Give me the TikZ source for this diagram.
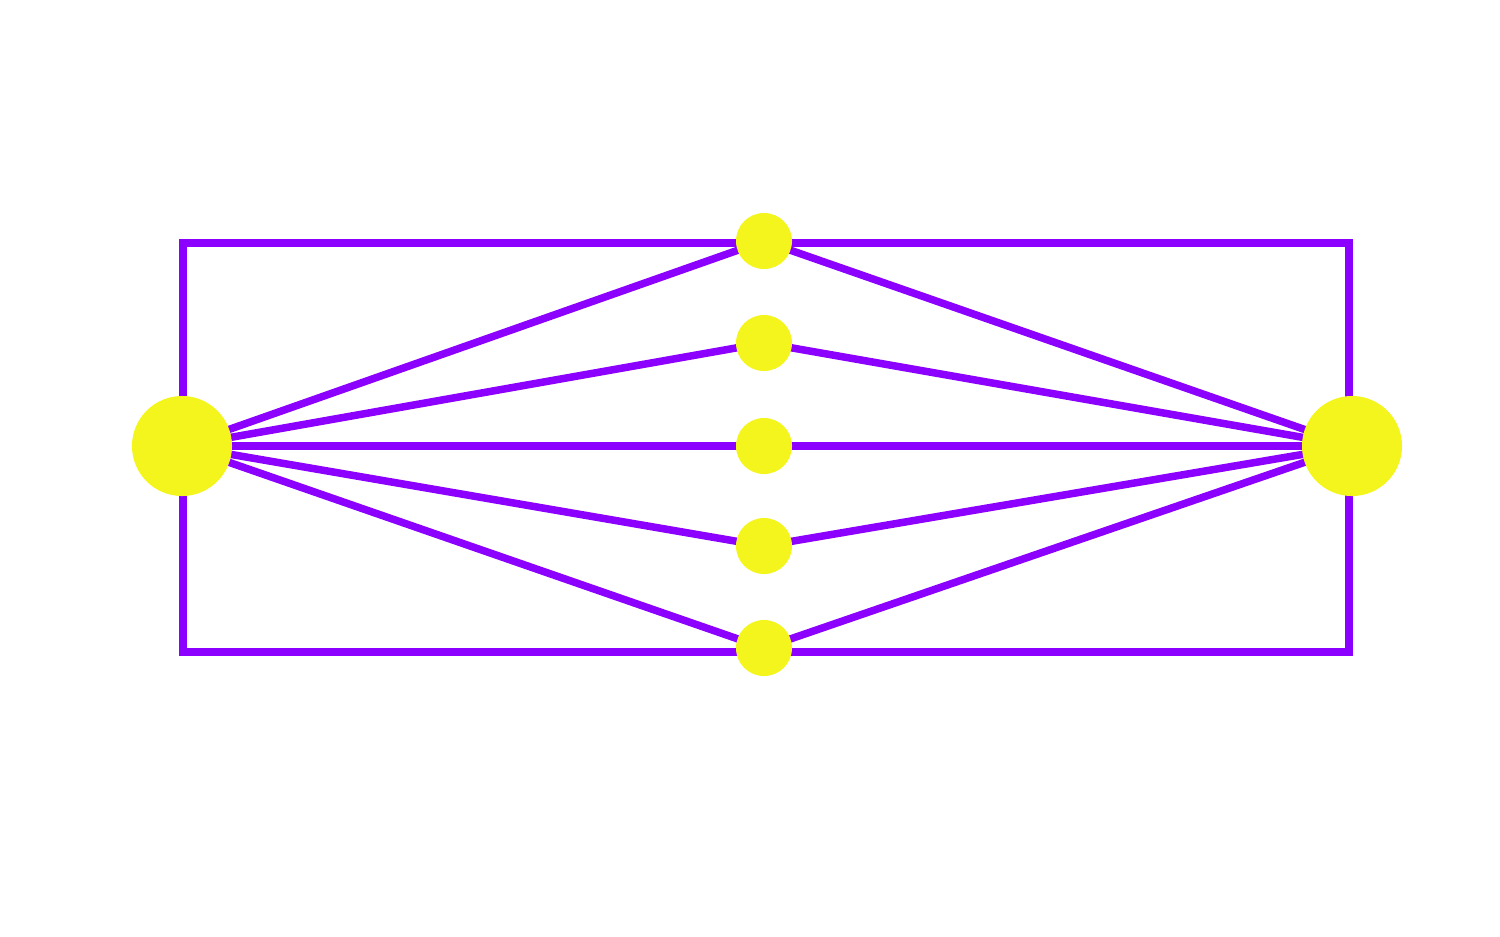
\documentclass[tikz,border=0pt]{standalone}
\definecolor{vio}{RGB}{139,0,255}
\definecolor{yel}{RGB}{245,245,30}
\pgfdeclarelayer{bg}
\pgfsetlayers{bg,main}
\begin{document}
\begin{tikzpicture}[x=0.01cm,y=-0.01cm,
  edge/.style={draw=vio,line width=0.075cm},
  big/.style={circle,fill=yel,inner sep=0pt,minimum size=1cm},
  small/.style={circle,fill=yel,inner sep=0pt,minimum size=0.56cm}]
\useasboundingbox (0,0) rectangle (1500,936);
\node[big] (L) at (182,446) {};
\node[big] (R) at (1352,446) {};
\node[small] (a) at (764,241) {};
\node[small] (b) at (764,343) {};
\node[small] (c) at (764,446) {};
\node[small] (d) at (764,546) {};
\node[small] (e) at (764,648) {};
\coordinate (tl) at (183,243);
\coordinate (tr) at (1349,243);
\coordinate (br) at (1349,652);
\coordinate (bl) at (183,652);
\begin{pgfonlayer}{bg}
\draw[edge] (tl) -- (tr) -- (br) -- (bl) -- cycle;
\foreach \n in {a,b,c,d,e}{
  \draw[edge] (L.center) -- (\n.center);
  \draw[edge] (\n.center) -- (R.center);
}
\end{pgfonlayer}
\end{tikzpicture}
\end{document}
